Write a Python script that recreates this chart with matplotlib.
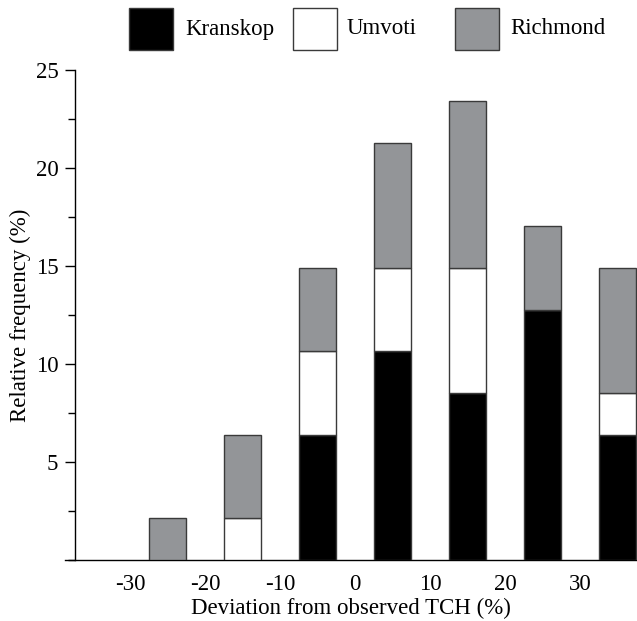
import numpy as np
import matplotlib
matplotlib.use("Agg")
import matplotlib.pyplot as plt
from matplotlib.patches import Rectangle
from matplotlib.ticker import MultipleLocator

plt.rcParams['font.family'] = ['Liberation Serif', 'DejaVu Serif']

# deviation classes (bar centres) and relative frequency (%) per district
centres = [-25, -15, -5, 5, 15, 25, 35]
kranskop = [0, 0, 6.38, 10.64, 8.51, 12.77, 6.38]
umvoti = [0, 2.13, 4.26, 4.26, 6.38, 0, 2.13]
richmond = [2.13, 4.26, 4.26, 6.38, 8.51, 4.26, 6.38]
xtick_vals = [-30, -20, -10, 0, 10, 20, 30]
ytick_vals = [5, 10, 15, 20, 25]

series = [("Kranskop", kranskop, "black"),
          ("Umvoti", umvoti, "white"),
          ("Richmond", richmond, "#939598")]

fig = plt.figure(figsize=(6.37, 6.21), dpi=100)
ax = fig.add_axes([65 / 637, 1 - 560 / 621, 1 - 65 / 637, (560 - 70) / 621])

x = np.array(centres)
bottom = np.zeros(len(x))
for name, vals, col in series:
    vals = np.array(vals)
    ax.bar(x, vals, width=5, bottom=bottom, color=col,
           edgecolor="#3a3a3a", linewidth=1.0, zorder=3)
    bottom += vals

ax.set_xlim(-38.67, 37.6)
ax.set_ylim(0, 25)

for s in ["top", "right"]:
    ax.spines[s].set_visible(False)
ax.spines["left"].set_position(("data", -37.33))
ax.spines["left"].set_linewidth(1.0)
ax.spines["bottom"].set_linewidth(1.0)

ax.set_xticks(xtick_vals)
ax.set_xticklabels([str(v) for v in xtick_vals])
ax.tick_params(axis="x", length=0, pad=10, labelsize=16.5)
ax.set_yticks(ytick_vals)
ax.yaxis.set_minor_locator(MultipleLocator(2.5))
ax.tick_params(axis="y", which="major", length=7, width=1, pad=5, labelsize=16.5)
ax.tick_params(axis="y", which="minor", length=5, width=1)

ax.set_xlabel("Deviation from observed TCH (%)", fontsize=16.5, labelpad=2)
ax.set_ylabel("Relative frequency (%)", fontsize=16.5, labelpad=3)

# legend drawn along the top
W, H = 637.0, 621.0
patch_x = [129, 293, 455]
text_x = [185, 347, 510]
for (name, vals, col), px, tx in zip(series, patch_x, text_x):
    fig.add_artist(Rectangle((px / W, 1 - 50 / H), 44 / W, 42 / H,
                             transform=fig.transFigure, facecolor=col,
                             edgecolor="#3a3a3a", linewidth=1.0))
    fig.text(tx / W, 1 - 29 / H, name, fontsize=16.5, ha="left", va="center")

fig.savefig("out.png", dpi=100)
